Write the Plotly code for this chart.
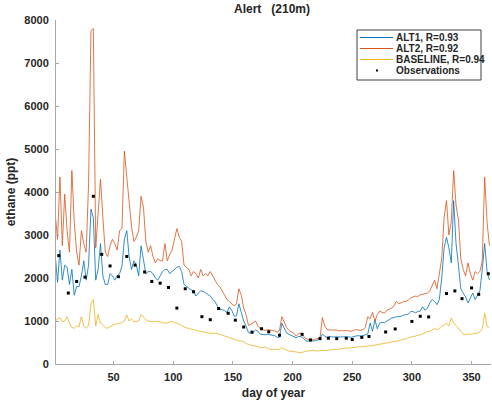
import plotly.graph_objects as go

# ---------------- data ----------------
days = list(range(1, 366, 2))

alt1 = [
    2550, 1900, 2650, 1950, 2300, 2250, 1850, 2200, 1600, 1800,
    1800, 2050, 2400, 1950, 2300, 3600, 3400, 1950, 2200, 2800,
    2050, 1850, 1850, 2100, 2050, 1950, 2050, 2100, 2280, 2900,
    3100, 2500, 2200, 2400, 2300, 2050, 2750, 2450, 2100, 2150,
    2150, 2100, 2000, 1950, 2050, 2150, 2200, 2200, 2100, 2150,
    2200, 2250, 2270, 2150, 1850, 1800, 1750, 1720, 1700, 1580,
    1650, 1700, 1690, 1650, 1620, 1580, 1500, 1450, 1350, 1280,
    1260, 1240, 1200, 1330, 1250, 1110, 1120, 1400, 1200, 1000,
    880, 730, 720, 740, 790, 760, 690, 680, 680, 690,
    680, 680, 660, 620, 620, 950, 820, 720, 690, 660,
    640, 610, 640, 640, 600, 540, 530, 530, 530, 540,
    560, 590, 700, 640, 620, 640, 630, 630, 630, 640,
    630, 640, 630, 630, 620, 640, 650, 660, 650, 660,
    680, 700, 950, 760, 1030, 820, 950, 970, 960, 1000,
    1050, 1070, 1080, 1100, 1100, 1110, 1140, 1150, 1160, 1220,
    1220, 1190, 1220, 1230, 1330, 1250, 1290, 1420, 1500, 1450,
    1380, 1500, 2000, 2700, 2950, 2700, 2350, 3800, 2800, 2300,
    1750, 1650, 1560, 1420, 1550, 1650, 1500, 1600, 1700, 2200,
    2800, 2150, 1950,
]

alt2 = [
    3500, 2900, 4350, 2750, 3950, 3100, 2600, 4500, 3300, 2600,
    2300, 3100, 2800, 2600, 4200, 7750, 7800, 2700, 3500, 4300,
    3400, 2600, 2500, 2750, 2900, 2800, 2650, 3100, 3150, 4950,
    4350, 3700, 3200, 2850, 2950, 3100, 3900, 3650, 2850, 2600,
    2750, 2500, 2350, 2450, 2400, 2400, 2800, 2400, 2550, 2650,
    2900, 3150, 2950, 2850, 2300, 2250, 2200, 2050, 2150, 2100,
    2000, 2200, 2050, 2100, 2050, 2150, 2050, 1950, 1850, 1800,
    1700, 1600, 1500, 1450, 1400, 1350, 1400, 1750, 1600, 1300,
    1150, 900, 920, 960, 1000, 880, 820, 800, 780, 800,
    790, 780, 770, 740, 780, 1100, 980, 850, 780, 750,
    720, 650, 700, 720, 640, 590, 570, 560, 560, 580,
    590, 620, 1080, 880, 800, 790, 790, 780, 790, 770,
    780, 770, 780, 770, 760, 780, 800, 790, 780, 800,
    850, 1100, 1050, 1200, 1000, 1150, 1230, 1200, 1180, 1250,
    1270, 1300, 1350, 1460, 1400, 1430, 1450, 1460, 1480, 1540,
    1560, 1580, 1570, 1610, 1620, 1640, 1650, 1700, 1850, 1950,
    1750, 2100, 2450, 3400, 3800, 3000, 3300, 4500, 3700, 3350,
    2450, 2200, 2050, 2350, 2100, 1950, 2150, 2100, 2150, 2400,
    4350, 3300, 2750,
]

baseline = [
    1000, 1050, 1080, 980, 1000, 1100, 950, 850, 830, 880,
    870, 1100, 880, 830, 900, 1400, 1500, 880, 1150, 950,
    900, 850, 830, 870, 900, 920, 930, 950, 960, 1000,
    1140, 1000, 1050, 980, 990, 1000, 1150, 1080, 1030, 1000,
    990, 980, 990, 990, 980, 960, 960, 950, 980, 990,
    960, 950, 920, 900, 860, 840, 830, 810, 800, 780,
    770, 760, 740, 730, 720, 720, 720, 710, 710, 690,
    670, 650, 640, 610, 590, 570, 550, 540, 530, 520,
    480, 450, 440, 430, 420, 400, 380, 380, 400, 370,
    340, 340, 340, 350, 340, 380, 340, 320, 300, 300,
    290, 280, 270, 260, 280, 300, 300, 310, 320, 310,
    300, 310, 320, 310, 320, 330, 330, 340, 340, 350,
    350, 360, 370, 370, 380, 380, 390, 400, 400, 410,
    410, 420, 420, 430, 440, 450, 460, 470, 480, 480,
    490, 500, 510, 530, 540, 560, 570, 590, 610, 630,
    640, 650, 660, 680, 700, 730, 750, 760, 790, 820,
    800, 830, 880, 900, 950, 880, 1070, 950, 900, 820,
    740, 690, 680, 700, 690, 700, 710, 720, 750, 820,
    1180, 880, 850,
]

obs_days = [4, 12, 19, 26, 33, 40, 47, 54, 61, 68,
            76, 82, 89, 96, 103, 110, 117, 124, 131, 138,
            146, 152, 159, 166, 174, 180, 189, 208, 215, 223,
            230, 237, 245, 250, 258, 264, 278, 286, 300, 307,
            314, 329, 336, 342, 350, 356, 364]
obs_vals = [2520, 1650, 1920, 2020, 3900, 2550, 2280, 2030, 2500, 2300,
            2140, 1920, 1880, 1780, 1300, 1750, 1680, 1100, 1030, 1290,
            1180, 1020, 860, 740, 820, 750, 670, 690, 560, 590,
            600, 590, 600, 570, 620, 640, 745, 815, 990, 1110,
            1095, 1640, 1700, 1520, 1770, 1620, 2100]

series_names = ["ALT1, R=0.93", "ALT2, R=0.92", "BASELINE, R=0.94", "Observations"]
x_ticks = [50, 100, 150, 200, 250, 300, 350]
y_ticks = [0, 1000, 2000, 3000, 4000, 5000, 6000, 7000, 8000]

# ---------------- styling ----------------
C_BLUE = "#0072BD"
C_ORANGE = "#D95319"
C_YELLOW = "#EDB120"
FONT = "Liberation Sans"
TXT = "#262626"

W, H = 492, 404
ML, MR, MT, MB = 56, 1, 20, 40
PW, PH = W - ML - MR, H - MT - MB


def pxx(x):
    return (x - ML) / PW


def pxy(y):
    return (H - MB - y) / PH


fig = go.Figure()
fig.add_trace(go.Scatter(x=days, y=alt1, mode="lines", name=series_names[0],
                         line=dict(color=C_BLUE, width=0.8), showlegend=False))
fig.add_trace(go.Scatter(x=days, y=alt2, mode="lines", name=series_names[1],
                         line=dict(color=C_ORANGE, width=0.8), showlegend=False))
fig.add_trace(go.Scatter(x=days, y=baseline, mode="lines", name=series_names[2],
                         line=dict(color=C_YELLOW, width=0.8), showlegend=False))
fig.add_trace(go.Scatter(x=obs_days, y=obs_vals, mode="markers", name=series_names[3],
                         marker=dict(color="black", size=3, symbol="square"),
                         showlegend=False))

axis_common = dict(
    showgrid=False, zeroline=False, showline=True, linecolor="#a8a8a8", linewidth=1,
    ticks="inside", ticklen=3, tickcolor="#a8a8a8", tickwidth=1,
    tickfont=dict(family=FONT, size=11, color=TXT, weight="bold"),
)

fig.update_layout(
    width=W, height=H,
    margin=dict(l=ML, r=MR, t=MT, b=MB, autoexpand=False),
    paper_bgcolor="white", plot_bgcolor="white",
    font=dict(family=FONT, color=TXT),
    title=dict(text="Alert\u00a0\u00a0 (210m)", x=pxx(272), xref="paper", xanchor="center",
               y=1 - 9 / H, yref="container", yanchor="middle",
               font=dict(family=FONT, size=12, color=TXT, weight="bold")),
    xaxis=dict(range=[1.7, 366.3], tickvals=x_ticks, ticklabelstandoff=3,
               title=dict(text="day of year", standoff=6,
                          font=dict(family=FONT, size=12, color=TXT, weight="bold")),
               **axis_common),
    yaxis=dict(range=[0, 8000], tickvals=y_ticks, ticklabelstandoff=4,
               title=dict(text="ethane (ppt)", standoff=6,
                          font=dict(family=FONT, size=12, color=TXT, weight="bold")),
               **axis_common),
)

# ---------------- custom legend (box, samples, labels) ----------------
box = dict(x0=pxx(357), x1=pxx(481), y0=pxy(80), y1=pxy(30))
fig.add_shape(type="rect", xref="paper", yref="paper", **box,
              line=dict(color="#404040", width=1), fillcolor="white", layer="above")
rows = [37.5, 48.5, 59.5, 70.5]
colors = [C_BLUE, C_ORANGE, C_YELLOW]
for i, c in enumerate(colors):
    fig.add_shape(type="line", xref="paper", yref="paper",
                  x0=pxx(360), x1=pxx(393), y0=pxy(rows[i]), y1=pxy(rows[i]),
                  line=dict(color=c, width=1), layer="above")
fig.add_shape(type="rect", xref="paper", yref="paper",
              x0=pxx(376), x1=pxx(378), y0=pxy(rows[3] + 1), y1=pxy(rows[3] - 1),
              line=dict(width=0), fillcolor="black", layer="above")
for i, name in enumerate(series_names):
    fig.add_annotation(xref="paper", yref="paper", x=pxx(394), y=pxy(rows[i]),
                       xanchor="left", yanchor="middle", showarrow=False, text=name,
                       font=dict(family=FONT, size=10, color=TXT, weight="bold"))

fig.write_html("out.html")
